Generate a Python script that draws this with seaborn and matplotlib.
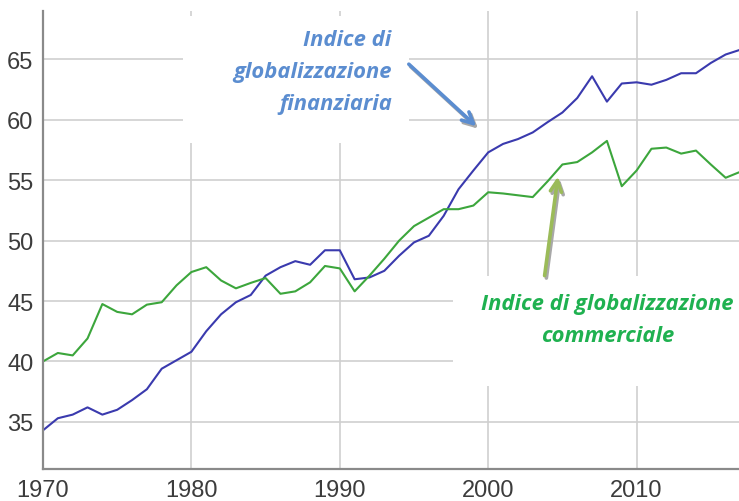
"""
plot.py - indici di globalizzazione finanziaria e commerciale, 1970-2017
"""
import matplotlib
matplotlib.use("Agg")
import matplotlib.pyplot as plt
import numpy as np
import pandas as pd
import seaborn as sns
from matplotlib.patches import Rectangle

YEARS = list(range(1970, 2018))

FINANZIARIA = [
    34.3, 35.3, 35.6, 36.2, 35.6, 36.0, 36.8, 37.7, 39.4, 40.1,
    40.8, 42.5, 43.9, 44.9, 45.5, 47.1, 47.8, 48.3, 48.0, 49.2,
    49.2, 46.8, 46.95, 47.5, 48.75, 49.85, 50.4, 52.05, 54.25, 55.8,
    57.3, 58.0, 58.4, 58.95, 59.8, 60.6, 61.8, 63.6, 61.5, 63.0,
    63.1, 62.9, 63.3, 63.85, 63.85, 64.7, 65.4, 65.8,
]

COMMERCIALE = [
    40.0, 40.7, 40.5, 41.9, 44.75, 44.1, 43.9, 44.7, 44.9, 46.3,
    47.4, 47.8, 46.7, 46.05, 46.5, 46.9, 45.6, 45.8, 46.55, 47.9,
    47.7, 45.8, 47.1, 48.5, 50.0, 51.2, 51.9, 52.6, 52.6, 52.9,
    54.0, 53.9, 53.75, 53.6, 54.9, 56.3, 56.5, 57.3, 58.25, 54.5,
    55.8, 57.6, 57.7, 57.2, 57.45, 56.3, 55.2, 55.7,
]

SERIES = ["Indice di globalizzazione finanziaria", "Indice di globalizzazione commerciale"]
COLORS = ["#3a3aae", "#3ca63c"]

Y_TICKS = [35, 40, 45, 50, 55, 60, 65]
X_TICKS = [1970, 1980, 1990, 2000, 2010]

LABEL_FIN = "Indice di\nglobalizzazione\nfinanziaria"
LABEL_COM = "Indice di globalizzazione\ncommerciale"


def main():
    sns.set_style("whitegrid")
    plt.rcParams["font.family"] = ["Liberation Sans", "DejaVu Sans"]

    df = pd.DataFrame({
        "anno": YEARS * 2,
        "valore": FINANZIARIA + COMMERCIALE,
        "serie": [SERIES[0]] * len(YEARS) + [SERIES[1]] * len(YEARS),
    })

    fig = plt.figure(figsize=(7.39, 5.02), dpi=100)
    ax = fig.add_axes([43 / 739, 32 / 502, 696 / 739, 458 / 502])

    sns.lineplot(data=df, x="anno", y="valore", hue="serie",
                 palette=COLORS, linewidth=1.5, legend=False, ax=ax)

    ax.set_xlim(1970, 2016.9)
    ax.set_ylim(31.1, 69.0)
    ax.set_xticks(X_TICKS)
    ax.set_yticks(Y_TICKS)
    ax.set_xlabel("")
    ax.set_ylabel("")
    ax.tick_params(axis="both", length=0, labelsize=17, labelcolor="#3c3c3c")
    ax.tick_params(axis="x", pad=7)
    ax.tick_params(axis="y", pad=7)

    ax.set_axisbelow(True)
    ax.grid(True, color="#cfcfcf", linewidth=1.2)
    for side in ["top", "right"]:
        ax.spines[side].set_visible(False)
    for side in ["left", "bottom"]:
        ax.spines[side].set_color("#8a8a8a")
        ax.spines[side].set_linewidth(1.6)

    # white boxes behind the labels (they hide the grid)
    ax.add_patch(Rectangle((0.201, 0.712), 0.325, 0.277, transform=ax.transAxes,
                           facecolor="white", edgecolor="none", zorder=1))
    ax.add_patch(Rectangle((0.589, 0.181), 0.42, 0.24, transform=ax.transAxes,
                           facecolor="white", edgecolor="none", zorder=1))

    txt = dict(fontfamily=["Open Sans", "DejaVu Sans"], fontsize=15.8, fontweight="bold",
               fontstyle="italic", linespacing=1.69, zorder=3)
    ax.text(1993.5, 64.0, LABEL_FIN, color="#5b8dd0", ha="right", va="center",
            multialignment="right", **txt)
    ax.text(2008.05, 43.5, LABEL_COM, color="#1fb150", ha="center", va="center",
            multialignment="center", **txt)

    # arrows with a grey drop shadow
    style = "->,head_length=0.8,head_width=0.4"
    for tip, tail, color in [((1999.2, 59.46), (1994.65, 64.6), "#5b8dd0"),
                             ((2004.7, 55.3), (2003.8, 47.1), "#9bbb59")]:
        shadow_tip = (tip[0] + 0.12, tip[1] - 0.2)
        shadow_tail = (tail[0] + 0.12, tail[1] - 0.2)
        ax.annotate("", xy=shadow_tip, xytext=shadow_tail,
                    arrowprops=dict(arrowstyle=style, color="#a8a8a8", lw=2.6,
                                    shrinkA=0, shrinkB=0),
                    zorder=3)
        ax.annotate("", xy=tip, xytext=tail,
                    arrowprops=dict(arrowstyle=style, color=color, lw=2.6,
                                    shrinkA=0, shrinkB=0),
                    zorder=4)

    fig.savefig("out.png", dpi=100)
    plt.close(fig)


if __name__ == "__main__":
    main()
